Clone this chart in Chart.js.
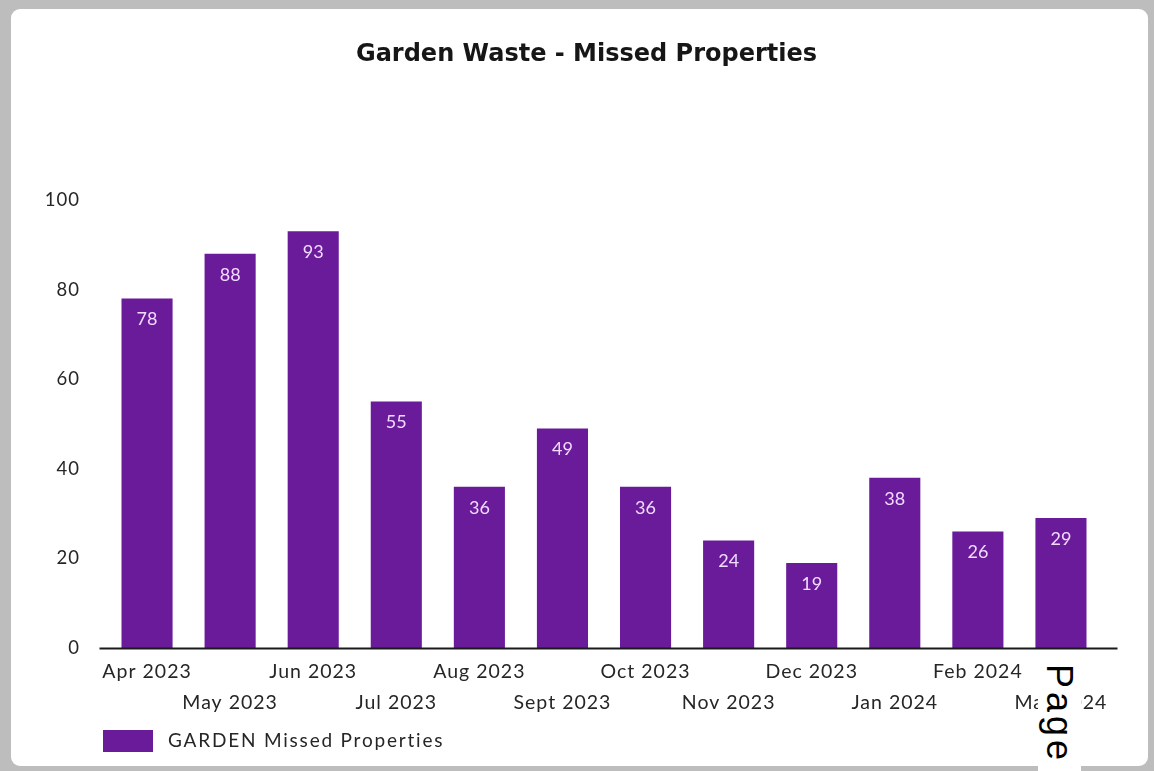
<!DOCTYPE html>
<html>
<head>
<meta charset="utf-8">
<script src="https://cdn.jsdelivr.net/npm/chart.js@4.4.1/dist/chart.umd.min.js"></script>
<style>
  html, body { margin: 0; padding: 0; }
  body { width: 1154px; height: 771px; background: #bdbdbd; position: relative; overflow: hidden; }
  #card { position: absolute; left: 11px; top: 9px; width: 1137px; height: 757px; background: #fff; border-radius: 9px; overflow: hidden; }
  #card canvas { display: block; }
  #page-tag { position: absolute; left: 1038px; top: 663px; width: 43px; height: 108px; background: #fff;
    writing-mode: vertical-rl; font-family: "Liberation Sans", Arial, sans-serif; font-size: 36px;
    letter-spacing: 4px; line-height: 43px; color: #000; padding-top: 1px; box-sizing: border-box; }
</style>
</head>
<body>
<div id="card"><canvas id="chart" width="1137" height="757"></canvas></div>
<div id="page-tag">Page</div>
<script>
// Monthly count of missed garden waste collections
const months = ['Apr 2023', 'May 2023', 'Jun 2023', 'Jul 2023', 'Aug 2023', 'Sept 2023',
                'Oct 2023', 'Nov 2023', 'Dec 2023', 'Jan 2024', 'Feb 2024', 'Mar 2024'];
const missedProperties = [78, 88, 93, 55, 36, 49, 36, 24, 19, 38, 26, 29];
const yTicks = [0, 20, 40, 60, 80, 100];

const seriesName = 'GARDEN Missed Properties';
const chartTitle = 'Garden Waste - Missed Properties';
const barColour = '#6a1b9a';

// Alternate labels onto a second row so they don't collide
const staggered = months.map((m, i) => (i % 2 === 0 ? m : ['', m]));

const labelFont = 'Lato, "DejaVu Sans", sans-serif';
const textColour = '#262626';

// Slightly open letter spacing for the axis text
const spacing = {
  id: 'spacing',
  beforeDraw(chart) { chart.ctx.letterSpacing = '1px'; }
};

// Title centred over the plot
const heading = {
  id: 'heading',
  afterDraw(chart) {
    const ctx = chart.ctx;
    ctx.save();
    ctx.letterSpacing = '0px';
    ctx.font = 'bold 24px "DejaVu Sans", sans-serif';
    ctx.fillStyle = '#161616';
    ctx.textAlign = 'center';
    ctx.textBaseline = 'middle';
    ctx.fillText(chartTitle, 575.5, 46);
    ctx.restore();
  }
};

// Single-entry key below the axis labels
const key = {
  id: 'key',
  afterDraw(chart) {
    const ctx = chart.ctx;
    const ds = chart.data.datasets[0];
    ctx.save();
    ctx.fillStyle = ds.backgroundColor;
    ctx.fillRect(92, 721, 50, 22);
    ctx.letterSpacing = '1.8px';
    ctx.font = '19px ' + labelFont;
    ctx.fillStyle = textColour;
    ctx.textAlign = 'left';
    ctx.textBaseline = 'middle';
    ctx.fillText(ds.label, 157, 732);
    ctx.restore();
  }
};

// Value written just inside the top of each bar
const barValues = {
  id: 'barValues',
  afterDatasetsDraw(chart) {
    const ctx = chart.ctx;
    const meta = chart.getDatasetMeta(0);
    ctx.save();
    ctx.letterSpacing = '0px';
    ctx.font = '18px ' + labelFont;
    ctx.fillStyle = '#f1dcff';
    ctx.textAlign = 'center';
    ctx.textBaseline = 'middle';
    meta.data.forEach((bar, i) => {
      ctx.fillText(String(chart.data.datasets[0].data[i]), bar.x, bar.y + 21);
    });
    ctx.restore();
  }
};

// Solid baseline along the zero line, running a little past the plot edges
const baseline = {
  id: 'baseline',
  afterDatasetsDraw(chart) {
    const ctx = chart.ctx;
    const y = Math.round(chart.scales.y.getPixelForValue(0)) + 0.5;
    const { left, right } = chart.chartArea;
    ctx.save();
    ctx.strokeStyle = '#1a1a1a';
    ctx.lineWidth = 2;
    ctx.beginPath();
    ctx.moveTo(left - 6, y);
    ctx.lineTo(right + 15, y);
    ctx.stroke();
    ctx.restore();
  }
};

new Chart(document.getElementById('chart'), {
  type: 'bar',
  data: {
    labels: staggered,
    datasets: [{
      label: seriesName,
      data: missedProperties,
      backgroundColor: barColour,
      borderWidth: 0,
      barPercentage: 0.615,
      categoryPercentage: 1.0
    }]
  },
  options: {
    responsive: false,
    animation: false,
    layout: { padding: { left: 20, right: 45.5, top: 191, bottom: 33 } },
    plugins: {
      title: { display: false },
      legend: { display: false },
      tooltip: { enabled: false }
    },
    scales: {
      x: {
        grid: { display: false, drawTicks: false },
        border: { display: false },
        ticks: {
          autoSkip: false,
          maxRotation: 0,
          minRotation: 0,
          padding: 8.5,
          color: textColour,
          font: { family: labelFont, size: 19.5, lineHeight: '31px' }
        },
        afterFit(scale) { scale.height = 85; }
      },
      y: {
        min: 0,
        max: 100,
        grid: { display: false, drawTicks: false },
        border: { display: false },
        afterBuildTicks(scale) { scale.ticks = yTicks.map(v => ({ value: v })); },
        ticks: {
          padding: 25.5,
          color: textColour,
          font: { family: labelFont, size: 18.5 }
        },
        afterFit(scale) { scale.width = 74.5; }
      }
    }
  },
  plugins: [spacing, barValues, baseline, heading, key]
});
</script>
</body>
</html>
